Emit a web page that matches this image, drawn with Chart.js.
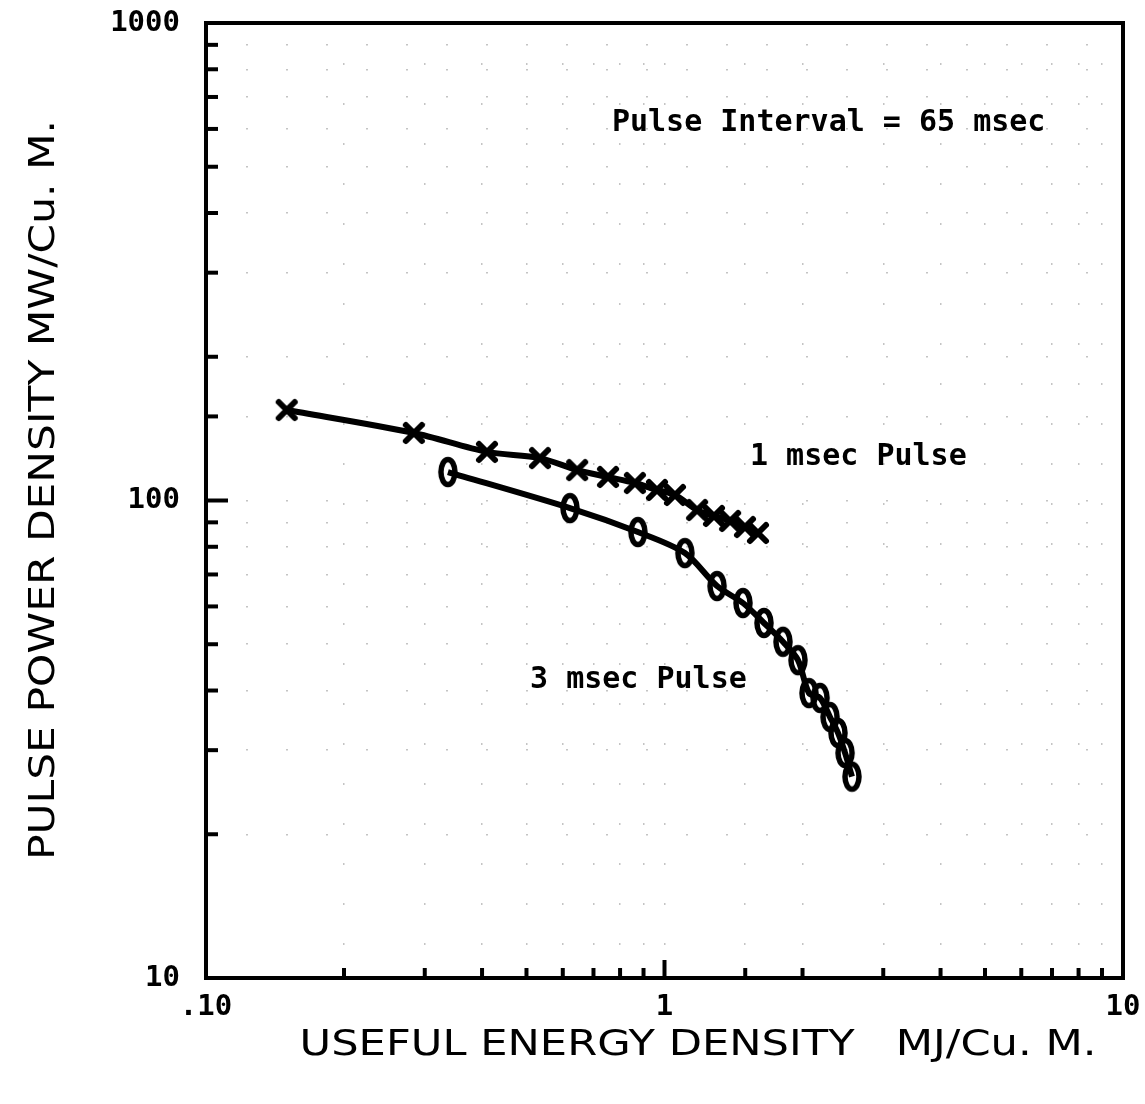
<!DOCTYPE html>
<html>
<head>
<meta charset="utf-8">
<script src="https://cdn.jsdelivr.net/npm/chart.js@4"></script>
<style>
  html, body { margin: 0; padding: 0; background: #fff; }
</style>
</head>
<body>
<canvas id="chart" width="1145" height="1104"></canvas>
<script>
// 1 msec pulse (x marks)
const energy1 = [0.150, 0.284, 0.410, 0.535, 0.645, 0.753, 0.862, 0.963, 1.054, 1.178, 1.282, 1.390, 1.498, 1.599];
const power1 = [154.7, 138.5, 126.4, 122.7, 115.8, 112.0, 108.8, 105.2, 102.7, 95.5, 92.8, 90.6, 88.0, 85.5];
// 3 msec pulse (o marks)
const energy3 = [0.337, 0.622, 0.875, 1.108, 1.302, 1.483, 1.648, 1.813, 1.955, 2.066, 2.184, 2.296, 2.390, 2.476, 2.564];
const power3 = [114.7, 96.4, 85.9, 77.6, 66.2, 61.0, 55.4, 50.6, 46.3, 39.5, 38.6, 35.2, 32.6, 29.6, 26.4];

const xTickLabels = ['.10', '1', '10'];
const yTickLabels = ['10', '100', '1000'];

const noteTexts = ['Pulse Interval = 65 msec', '1 msec Pulse', '3 msec Pulse'];
const noteX = [0.768, 1.536, 0.509];
const noteY = [617, 123.3, 42.1];

const xTitle = 'USEFUL ENERGY DENSITY   MJ/Cu. M.';
const yTitle = 'PULSE POWER DENSITY MW/Cu. M.';

const noteFont = 'bold 30px "DejaVu Sans Mono"';

function decadeIndex(v) {
  const l = Math.log10(v);
  return Math.abs(l - Math.round(l)) < 1e-6 ? Math.round(l) : null;
}

// elongated "O" marker
const oMark = document.createElement('canvas');
oMark.width = 24; oMark.height = 34;
(function () {
  const c = oMark.getContext('2d');
  c.lineWidth = 5.5;
  c.strokeStyle = '#000';
  c.beginPath();
  c.ellipse(12, 17, 7, 12.5, 0, 0, Math.PI * 2);
  c.stroke();
})();

// thick "X" marker
const xMark = document.createElement('canvas');
xMark.width = 26; xMark.height = 26;
(function () {
  const c = xMark.getContext('2d');
  c.lineWidth = 6;
  c.lineCap = 'round';
  c.strokeStyle = '#000';
  c.beginPath();
  c.moveTo(5, 5); c.lineTo(21, 21);
  c.moveTo(21, 5); c.lineTo(5, 21);
  c.stroke();
})();

const points1 = energy1.map((e, i) => ({x: e, y: power1[i]}));
const points3 = energy3.map((e, i) => ({x: e, y: power3[i]}));

const framePlugin = {
  id: 'frame',
  afterDatasetsDraw(chart) {
    const ctx = chart.ctx;
    const a = chart.chartArea;
    const xs = chart.scales.x, ys = chart.scales.y;
    ctx.save();
    ctx.strokeStyle = '#000';
    ctx.lineWidth = 4;
    ctx.strokeRect(a.left, a.top, a.right - a.left, a.bottom - a.top);

    // inward ticks
    xs.ticks.forEach(t => {
      if (t.value <= xs.min || t.value >= xs.max) return;
      const px = xs.getPixelForValue(t.value);
      const len = decadeIndex(t.value) !== null ? 18 : 10;
      ctx.beginPath();
      ctx.moveTo(px, a.bottom);
      ctx.lineTo(px, a.bottom - len);
      ctx.stroke();
    });
    ys.ticks.forEach(t => {
      if (t.value <= ys.min || t.value >= ys.max) return;
      const py = ys.getPixelForValue(t.value);
      const len = decadeIndex(t.value) !== null ? 22 : 12;
      ctx.beginPath();
      ctx.moveTo(a.left, py);
      ctx.lineTo(a.left + len, py);
      ctx.stroke();
    });

    // notes
    ctx.fillStyle = '#000';
    ctx.font = noteFont;
    ctx.textAlign = 'left';
    ctx.textBaseline = 'middle';
    noteTexts.forEach((txt, i) => {
      ctx.fillText(txt, xs.getPixelForValue(noteX[i]), ys.getPixelForValue(noteY[i]));
    });

    // axis titles
    ctx.textAlign = 'center';
    ctx.font = '36px "DejaVu Sans"';
    let w = ctx.measureText(xTitle).width;
    ctx.save();
    ctx.translate(698, 1046);
    ctx.scale(797 / w, 1);
    ctx.fillText(xTitle, 0, 0);
    ctx.restore();

    w = ctx.measureText(yTitle).width;
    ctx.save();
    ctx.translate(45, 490);
    ctx.rotate(-Math.PI / 2);
    ctx.scale(740 / w, 1);
    ctx.fillText(yTitle, 0, 0);
    ctx.restore();
    ctx.restore();
  }
};

new Chart(document.getElementById('chart'), {
  type: 'line',
  data: {
    datasets: [
      {
        label: '1 msec Pulse',
        data: points1,
        borderColor: '#000',
        backgroundColor: '#000',
        borderWidth: 6,
        tension: 0.3,
        pointStyle: xMark,
        fill: false
      },
      {
        label: '3 msec Pulse',
        data: points3,
        borderColor: '#000',
        backgroundColor: '#000',
        borderWidth: 6,
        tension: 0.3,
        pointStyle: oMark,
        fill: false
      }
    ]
  },
  options: {
    responsive: false,
    animation: false,
    events: [],
    layout: {padding: {top: 23, right: 22, left: 0, bottom: 0}},
    plugins: {legend: {display: false}, tooltip: {enabled: false}},
    scales: {
      x: {
        type: 'logarithmic',
        min: 0.1,
        max: 10,
        afterFit(s) { s.height = 126; s.paddingLeft = 0; s.paddingRight = 0; },
        grid: {color: '#c4c4c4', lineWidth: 1.5, drawTicks: false},
        border: {display: false, dash: [2, 38]},
        ticks: {
          autoSkip: false,
          maxRotation: 0,
          padding: 12,
          color: '#000',
          font: {family: 'DejaVu Sans Mono', size: 29, weight: 'bold'},
          callback(v) {
            const d = decadeIndex(v);
            return d === null ? '' : xTickLabels[d + 1];
          }
        }
      },
      y: {
        type: 'logarithmic',
        min: 10,
        max: 1000,
        afterFit(s) { s.width = 206; s.paddingTop = 0; s.paddingBottom = 0; },
        grid: {color: '#c4c4c4', lineWidth: 1.5, drawTicks: false},
        border: {display: false, dash: [2, 38]},
        ticks: {
          autoSkip: false,
          padding: 26,
          color: '#000',
          font: {family: 'DejaVu Sans Mono', size: 29, weight: 'bold'},
          callback(v) {
            const d = decadeIndex(v);
            return d === null ? '' : yTickLabels[d - 1];
          }
        }
      }
    }
  },
  plugins: [framePlugin]
});
</script>
</body>
</html>
